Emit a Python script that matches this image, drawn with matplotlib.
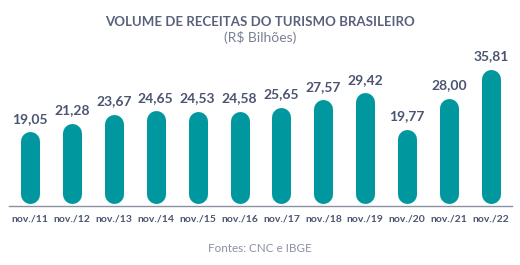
import matplotlib
matplotlib.use("Agg")
import matplotlib.pyplot as plt
import numpy as np

plt.rcParams["font.family"] = ["Lato", "DejaVu Sans"]

labels = ["nov./11", "nov./12", "nov./13", "nov./14", "nov./15", "nov./16",
          "nov./17", "nov./18", "nov./19", "nov./20", "nov./21", "nov./22"]
values = [19.05, 21.28, 23.67, 24.65, 24.53, 24.58,
          25.65, 27.57, 29.42, 19.77, 28.00, 35.81]

BAR = "#00989e"
TEXT = "#4b5470"
AXIS = "#8c90a3"

W, H = 520, 265
fig = plt.figure(figsize=(W / 100, H / 100), dpi=100)
ax = fig.add_axes([9 / W, 59 / H, 503 / W, 166 / H])
ax.set_xlim(-0.5, len(values) - 0.5)
ax.set_ylim(-0.8, -0.8 + 166 / 3.74)

bar_px = 19
lw_pt = bar_px * 72 / 100
# radius of round cap in data units
r = (bar_px / 2) * (ax.get_ylim()[1] - ax.get_ylim()[0]) / 166

x = np.arange(len(values))
for xi, v in zip(x, values):
    ax.plot([xi, xi], [r, v - r], color=BAR, lw=lw_pt, solid_capstyle="round")
    ax.text(xi, v + 1.9, f"{v:.2f}".replace(".", ","), ha="center", va="bottom",
            fontsize=10, fontweight="bold", color=TEXT)

ax.set_xticks(x)
ax.set_xticklabels(labels, fontsize=7.5, fontweight="bold", color=TEXT)
ax.tick_params(axis="x", length=0, pad=6)
ax.set_yticks([])
for s in ["top", "right", "left"]:
    ax.spines[s].set_visible(False)
ax.spines["bottom"].set_color(AXIS)
ax.spines["bottom"].set_linewidth(1.0)
ax.set_facecolor("none")

fig.text(0.5, 1 - 22 / H, "VOLUME DE RECEITAS DO TURISMO BRASILEIRO", ha="center",
         va="center", fontsize=9.5, fontweight="bold", color="#59607a")
fig.text(0.5, 1 - 38 / H, "(R$ Bilhões)", ha="center", va="center",
         fontsize=10, color="#7a8095")
fig.text(0.5, 1 - 249 / H, "Fontes: CNC e IBGE", ha="center", va="center",
         fontsize=8.4, color="#8c90a3")

fig.savefig("out.png", dpi=100)
